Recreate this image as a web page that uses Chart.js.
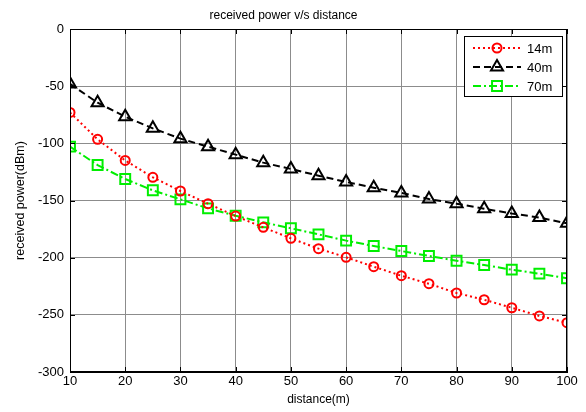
<!DOCTYPE html>
<html>
<head>
<meta charset="utf-8">
<script src="https://cdn.jsdelivr.net/npm/chart.js@4/dist/chart.umd.min.js"></script>
<style>
  html, body { margin: 0; padding: 0; background: #fff; }
  #wrap { width: 586px; height: 412px; }
</style>
</head>
<body>
<div id="wrap"><canvas id="powerChart" width="586" height="412"></canvas></div>
<script>
// distance in metres
const distances = [10, 15, 20, 25, 30, 35, 40, 45, 50, 55, 60, 65, 70, 75, 80, 85, 90, 95, 100];

// received power (dBm) for each antenna height
const power14m = [-73, -96.5, -115, -129.7, -141.7, -152.8, -163.6, -173.5, -183.1, -192.1, -199.7, -207.9, -215.8, -222.8, -230.9, -236.8, -243.8, -251, -256.9];
const power40m = [-48, -64.5, -76.7, -86.9, -95.9, -102.9, -109.9, -116.9, -122.4, -128.3, -133.8, -138.8, -143.4, -148.7, -152.8, -157.2, -161.4, -164.9, -170];
const power70m = [-102.9, -119, -131.2, -141.1, -149, -156.9, -163.3, -169.1, -174.3, -179.6, -185.1, -189.8, -194.2, -198.5, -202.7, -206.4, -210.5, -214, -218];

const xTicks = [10, 20, 30, 40, 50, 60, 70, 80, 90, 100];
const yTicks = [0, -50, -100, -150, -200, -250, -300];

const FONT = "Arial, 'Liberation Sans', sans-serif";

function toPoints(values) {
  return distances.map((d, i) => ({ x: d, y: values[i] }));
}

function series(label, values, color, dash, style, radius) {
  return {
    label: label,
    data: toPoints(values),
    borderColor: color,
    borderWidth: 2,
    borderDash: dash,
    pointStyle: style,
    pointRadius: radius,
    pointHoverRadius: radius,
    pointBorderColor: color,
    pointBackgroundColor: "rgba(0,0,0,0)",
    pointBorderWidth: 2,
    fill: false,
    tension: 0,
  };
}

// small marker used in the legend box
function drawMarker(ctx, style, x, y, r) {
  ctx.beginPath();
  if (style === "circle") {
    ctx.arc(x, y, r, 0, Math.PI * 2);
  } else if (style === "triangle") {
    ctx.moveTo(x, y - r);
    ctx.lineTo(x + r * Math.sqrt(3) / 2, y + r / 2);
    ctx.lineTo(x - r * Math.sqrt(3) / 2, y + r / 2);
    ctx.closePath();
  } else {
    const s = r * Math.SQRT1_2;
    ctx.rect(x - s, y - s, 2 * s, 2 * s);
  }
  ctx.stroke();
}

// box frame, inward ticks on all sides and the legend
const frameAndLegend = {
  id: "frameAndLegend",
  afterDatasetsDraw(chart) {
    const ctx = chart.ctx;
    const a = chart.chartArea;
    const xs = chart.scales.x;
    const ys = chart.scales.y;
    ctx.save();
    ctx.strokeStyle = "#000";
    ctx.lineWidth = 1;
    ctx.setLineDash([]);
    ctx.strokeRect(a.left + 0.5, a.top + 0.5, a.right - a.left - 1, a.bottom - a.top - 1);
    ctx.beginPath();
    xTicks.forEach((v) => {
      const px = Math.round(xs.getPixelForValue(v)) + 0.5;
      ctx.moveTo(px, a.bottom); ctx.lineTo(px, a.bottom - 5);
      ctx.moveTo(px, a.top); ctx.lineTo(px, a.top + 5);
    });
    yTicks.forEach((v) => {
      const py = Math.round(ys.getPixelForValue(v)) + 0.5;
      ctx.moveTo(a.left, py); ctx.lineTo(a.left + 5, py);
      ctx.moveTo(a.right, py); ctx.lineTo(a.right - 5, py);
    });
    ctx.stroke();

    // legend
    const bx = 464, by = 36, bw = 98, bh = 60;
    ctx.fillStyle = "#fff";
    ctx.fillRect(bx, by, bw, bh);
    ctx.strokeStyle = "#000";
    ctx.lineWidth = 1;
    ctx.strokeRect(bx + 0.5, by + 0.5, bw, bh);
    ctx.font = "13px " + FONT;
    ctx.textBaseline = "middle";
    ctx.textAlign = "left";
    chart.data.datasets.forEach((ds, i) => {
      const y = by + 12 + i * 19;
      ctx.strokeStyle = ds.borderColor;
      ctx.lineWidth = 2;
      ctx.setLineDash(ds.borderDash);
      ctx.beginPath();
      ctx.moveTo(bx + 9, y);
      ctx.lineTo(bx + 57, y);
      ctx.stroke();
      ctx.setLineDash([]);
      drawMarker(ctx, ds.pointStyle, bx + 33, y, ds.pointRadius);
      ctx.fillStyle = "#000";
      ctx.fillText(ds.label, bx + 63, y + 1);
    });
    ctx.restore();
  },
};

const ctx = document.getElementById("powerChart").getContext("2d");
const powerChart = new Chart(ctx, {
  type: "line",
  data: {
    datasets: [
      series("14m", power14m, "#ff0000", [2, 3], "circle", 4.5),
      series("40m", power40m, "#000000", [7, 4], "triangle", 7),
      series("70m", power70m, "#00ee00", [8, 3, 2, 3], "rect", 7),
    ],
  },
  options: {
    responsive: false,
    animation: false,
    layout: { padding: { top: 0, right: 19, left: 0, bottom: 0 } },
    plugins: {
      legend: { display: false },
      tooltip: { enabled: false },
      title: {
        display: true,
        text: "received power v/s distance",
        color: "#000",
        font: { family: FONT, size: 12, weight: "normal" },
        padding: { top: 8, bottom: 6.6 },
      },
    },
    scales: {
      x: {
        type: "linear",
        min: 10,
        max: 100,
        afterFit: (s) => { s.height = 40; },
        afterBuildTicks: (s) => { s.ticks = xTicks.map((v) => ({ value: v })); },
        grid: { color: "#8c8c8c", lineWidth: 1, drawTicks: false },
        border: { color: "#000", width: 1 },
        ticks: { color: "#000", padding: 2, maxRotation: 0, font: { family: FONT, size: 13 } },
        title: {
          display: true,
          text: "distance(m)",
          color: "#000",
          font: { family: FONT, size: 12 },
          padding: { top: 0, bottom: 5 },
        },
      },
      y: {
        type: "linear",
        min: -300,
        max: 0,
        afterFit: (s) => { s.width = 70; },
        afterBuildTicks: (s) => { s.ticks = yTicks.map((v) => ({ value: v })); },
        grid: { color: "#8c8c8c", lineWidth: 1, drawTicks: false },
        border: { color: "#000", width: 1 },
        ticks: { color: "#000", padding: 6, font: { family: FONT, size: 13 } },
        title: {
          display: true,
          text: "received power(dBm)",
          color: "#000",
          font: { family: FONT, size: 12.5 },
          padding: { top: 13, bottom: 0 },
        },
      },
    },
  },
  plugins: [frameAndLegend],
});
</script>
</body>
</html>
